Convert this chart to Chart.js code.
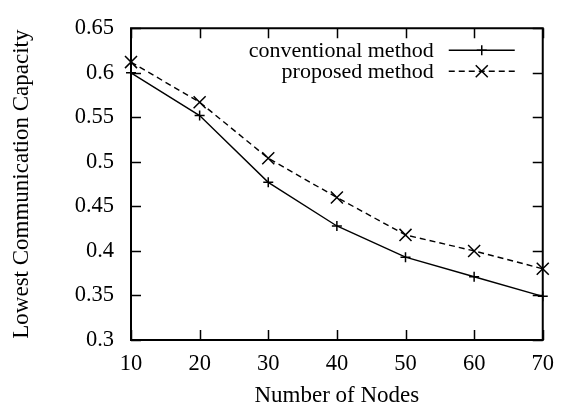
<!DOCTYPE html>
<html>
<head>
<meta charset="utf-8">
<script src="https://cdn.jsdelivr.net/npm/chart.js@4/dist/chart.umd.min.js"></script>
<style>
  html, body { margin: 0; padding: 0; background: #fff; }
  #wrap { width: 567px; height: 407px; }
</style>
</head>
<body>
<div id="wrap"><canvas id="c" width="567" height="407"></canvas></div>
<script>
const nodeCounts = [10, 20, 30, 40, 50, 60, 70];
const conventionalValues = [0.600, 0.552, 0.477, 0.428, 0.393, 0.371, 0.349];
const proposedValues = [0.612, 0.567, 0.504, 0.460, 0.418, 0.400, 0.380];
const seriesNames = ['conventional method', 'proposed method'];
const yTickLabels = ['0.3', '0.35', '0.4', '0.45', '0.5', '0.55', '0.6', '0.65'];
const xTickLabels = ['10', '20', '30', '40', '50', '60', '70'];
const xTitle = 'Number of Nodes';
const yTitle = 'Lowest Communication Capacity';

const FONT = '"Liberation Serif", "Times New Roman", serif';
const FS_TICK = 22.5;
const FS_TITLE = 23;
const FS_LEGEND = 22;

const toPoints = (vals) => nodeCounts.map((x, i) => ({ x: x, y: vals[i] }));

const frameAndTicks = {
  id: 'frameAndTicks',
  afterDraw(chart) {
    const ctx = chart.ctx;
    const a = chart.chartArea;
    const xs = chart.scales.x, ys = chart.scales.y;
    const tl = 10;
    ctx.save();
    ctx.strokeStyle = '#000';
    ctx.lineWidth = 1.5;
    ctx.beginPath();
    nodeCounts.forEach(v => {
      const px = Math.round(xs.getPixelForValue(v)) + 0.5;
      ctx.moveTo(px, a.bottom); ctx.lineTo(px, a.bottom - tl);
      ctx.moveTo(px, a.top); ctx.lineTo(px, a.top + tl);
    });
    yTickLabels.forEach(l => {
      const py = Math.round(ys.getPixelForValue(parseFloat(l))) + 0.5;
      ctx.moveTo(a.left, py); ctx.lineTo(a.left + tl, py);
      ctx.moveTo(a.right, py); ctx.lineTo(a.right - tl, py);
    });
    ctx.stroke();
    ctx.lineWidth = 2;
    ctx.strokeRect(a.left, a.top, a.right - a.left, a.bottom - a.top);

    // legend
    ctx.font = FS_LEGEND + 'px ' + FONT;
    ctx.fillStyle = '#000';
    ctx.textAlign = 'right';
    ctx.textBaseline = 'middle';
    const textRight = a.right - 109;
    const lineL = a.right - 94, lineR = a.right - 28;
    const rows = [a.top + 22, a.top + 43];
    chart.data.datasets.forEach((ds, i) => {
      const y = rows[i];
      ctx.fillText(ds.label, textRight, y + 1);
      ctx.lineWidth = 1.4;
      ctx.setLineDash(ds.borderDash || []);
      ctx.beginPath();
      ctx.moveTo(lineL, y); ctx.lineTo(lineR, y);
      ctx.stroke();
      ctx.setLineDash([]);
      ctx.lineWidth = 1.5;
      const cx = (lineL + lineR) / 2;
      ctx.beginPath();
      if (ds.pointStyle === 'cross') {
        const r = ds.pointRadius;
        ctx.moveTo(cx - r, y); ctx.lineTo(cx + r, y);
        ctx.moveTo(cx, y - r); ctx.lineTo(cx, y + r);
      } else {
        const r = ds.pointRadius * Math.SQRT1_2;
        ctx.moveTo(cx - r, y - r); ctx.lineTo(cx + r, y + r);
        ctx.moveTo(cx - r, y + r); ctx.lineTo(cx + r, y - r);
      }
      ctx.stroke();
    });
    ctx.restore();
  }
};

new Chart(document.getElementById('c'), {
  type: 'line',
  data: {
    datasets: [
      {
        label: seriesNames[0],
        data: toPoints(conventionalValues),
        borderColor: '#000',
        backgroundColor: '#000',
        borderWidth: 1.4,
        pointStyle: 'cross',
        pointRadius: 5,
        pointBorderWidth: 1.5,
        pointHoverRadius: 5,
        fill: false,
        tension: 0,
        clip: false
      },
      {
        label: seriesNames[1],
        data: toPoints(proposedValues),
        borderColor: '#000',
        backgroundColor: '#000',
        borderWidth: 1.4,
        borderDash: [6, 4],
        pointStyle: 'crossRot',
        pointRadius: 8.5,
        pointBorderWidth: 1.5,
        pointHoverRadius: 8.5,
        fill: false,
        tension: 0,
        clip: false
      }
    ]
  },
  options: {
    responsive: false,
    animation: false,
    devicePixelRatio: 1,
    layout: { padding: { top: 20, right: 16, left: 0, bottom: 0 } },
    plugins: {
      legend: { display: false },
      tooltip: { enabled: false }
    },
    scales: {
      x: {
        type: 'linear',
        min: 10, max: 70,
        afterFit(s) { s.height = 67; },
        grid: { display: false, drawTicks: false },
        border: { display: false },
        ticks: {
          stepSize: 10,
          padding: 13,
          color: '#000',
          font: { family: FONT, size: FS_TICK, lineHeight: 1 },
          maxRotation: 0,
          callback: (v) => xTickLabels[nodeCounts.indexOf(v)] ?? ''
        },
        title: {
          display: true,
          text: xTitle,
          color: '#000',
          font: { family: FONT, size: FS_TITLE, lineHeight: 1 },
          padding: { top: 0, bottom: 0 }
        }
      },
      y: {
        type: 'linear',
        min: 0.3, max: 0.65,
        afterFit(s) { s.width = 131; },
        grid: { display: false, drawTicks: false },
        border: { display: false },
        ticks: {
          stepSize: 0.05,
          padding: 17,
          color: '#000',
          font: { family: FONT, size: FS_TICK, lineHeight: 1 },
          callback: (v) => {
            const idx = yTickLabels.findIndex(l => Math.abs(parseFloat(l) - v) < 1e-6);
            return idx >= 0 ? yTickLabels[idx] : '';
          }
        },
        title: {
          display: true,
          text: yTitle,
          color: '#000',
          font: { family: FONT, size: FS_TITLE, lineHeight: 1 },
          padding: { top: 10.5, bottom: 0 }
        }
      }
    }
  },
  plugins: [frameAndTicks]
});
</script>
</body>
</html>
